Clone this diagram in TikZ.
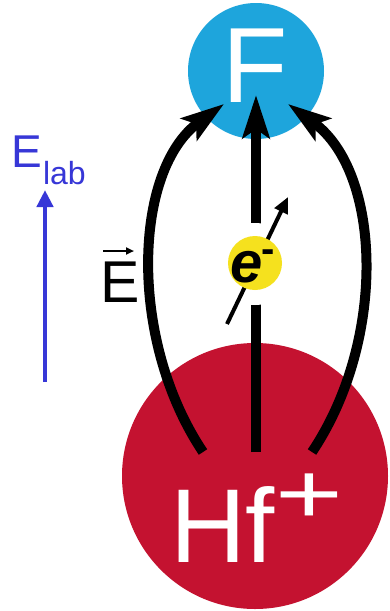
\documentclass[tikz,border=0pt]{standalone}
\usepackage{fontspec}
\setmainfont{Liberation Sans}
\usetikzlibrary{arrows.meta}
\definecolor{fblue}{RGB}{30,165,220}
\definecolor{hfred}{RGB}{196,18,48}
\definecolor{eyellow}{RGB}{245,225,30}
\definecolor{labblue}{RGB}{55,55,215}
\tikzset{
  atom/.style={circle,inner sep=0pt,draw=none},
  fieldarrow/.style={line width=10pt,-{Stealth[length=43pt,width=27pt,inset=9pt]}},
  spinarrow/.style={line width=4pt,-{Triangle[length=16pt,width=14pt]}},
  labarrow/.style={line width=4.5pt,labblue,-{Triangle[length=17pt,width=16pt]}},
  vecarrow/.style={line width=2pt,-{Triangle[length=8pt,width=7pt]}},
  txt/.style={inner sep=0pt,outer sep=0pt}
}
\begin{document}
\begin{tikzpicture}[x=1pt,y=-1pt]
\useasboundingbox (0,0) rectangle (390,611);
\fill[white] (0,0) rectangle (390,611);
% atoms
\node[atom,fill=fblue,minimum size=136pt] (F) at (256,71) {};
\node[atom,fill=hfred,minimum size=266pt] (Hf) at (255,476) {};
% arrow end points
\coordinate (hfL) at (203,452);
\coordinate (hfM) at (256,452);
\coordinate (hfR) at (312,452);
\coordinate (fL) at (224,104);
\coordinate (fM) at (256,95);
\coordinate (fR) at (288,104);
% field lines
\draw[fieldarrow] (hfL) .. controls (128,340) and (133,170) .. (fL);
\draw[fieldarrow] (hfR) .. controls (387,340) and (382,172) .. (fR);
\draw[fieldarrow] (hfM) -- (fM);
% electron
\node[atom,fill=white,minimum size=82pt] (halo) at (255,264) {};
\coordinate (spinS) at (227,324);
\coordinate (spinE) at (288,197);
\draw[spinarrow] (spinS) -- (spinE);
\node[atom,fill=eyellow,minimum size=54pt] (e) at (255,263) {};
\node[txt,anchor=base] (etext) at (247,282) {\fontsize{58}{58}\selectfont\bfseries\itshape e};
\node[txt] (eminus) at (268.5,256) {\fontsize{40}{40}\selectfont\bfseries -};
% labels
\node[txt,anchor=base,text=white] (Ftext) at (255,102) {\fontsize{107}{107}\selectfont F};
\node[txt,anchor=base west,text=white] (Hftext) at (170,562) {\fontsize{105}{105}\selectfont Hf};
\node[txt,text=white] (Hfplus) at (309,499) {\scalebox{1.35}[1]{\fontsize{86}{86}\selectfont +}};
% vector E
\node[txt,anchor=base west] (Evec) at (100,302) {\fontsize{59}{59}\selectfont E};
\coordinate (va) at (103,251);
\coordinate (vb) at (134,251);
\draw[vecarrow] (va) -- (vb);
% lab field
\node[txt,anchor=base west,text=labblue] (Elab) at (11,167) {\fontsize{46}{46}\selectfont E};
\node[txt,anchor=base west,text=labblue] (lab) at (43,184) {\fontsize{32}{32}\selectfont lab};
\coordinate (ea) at (45,382);
\coordinate (eb) at (45,190);
\draw[labarrow] (ea) -- (eb);
\end{tikzpicture}
\end{document}
